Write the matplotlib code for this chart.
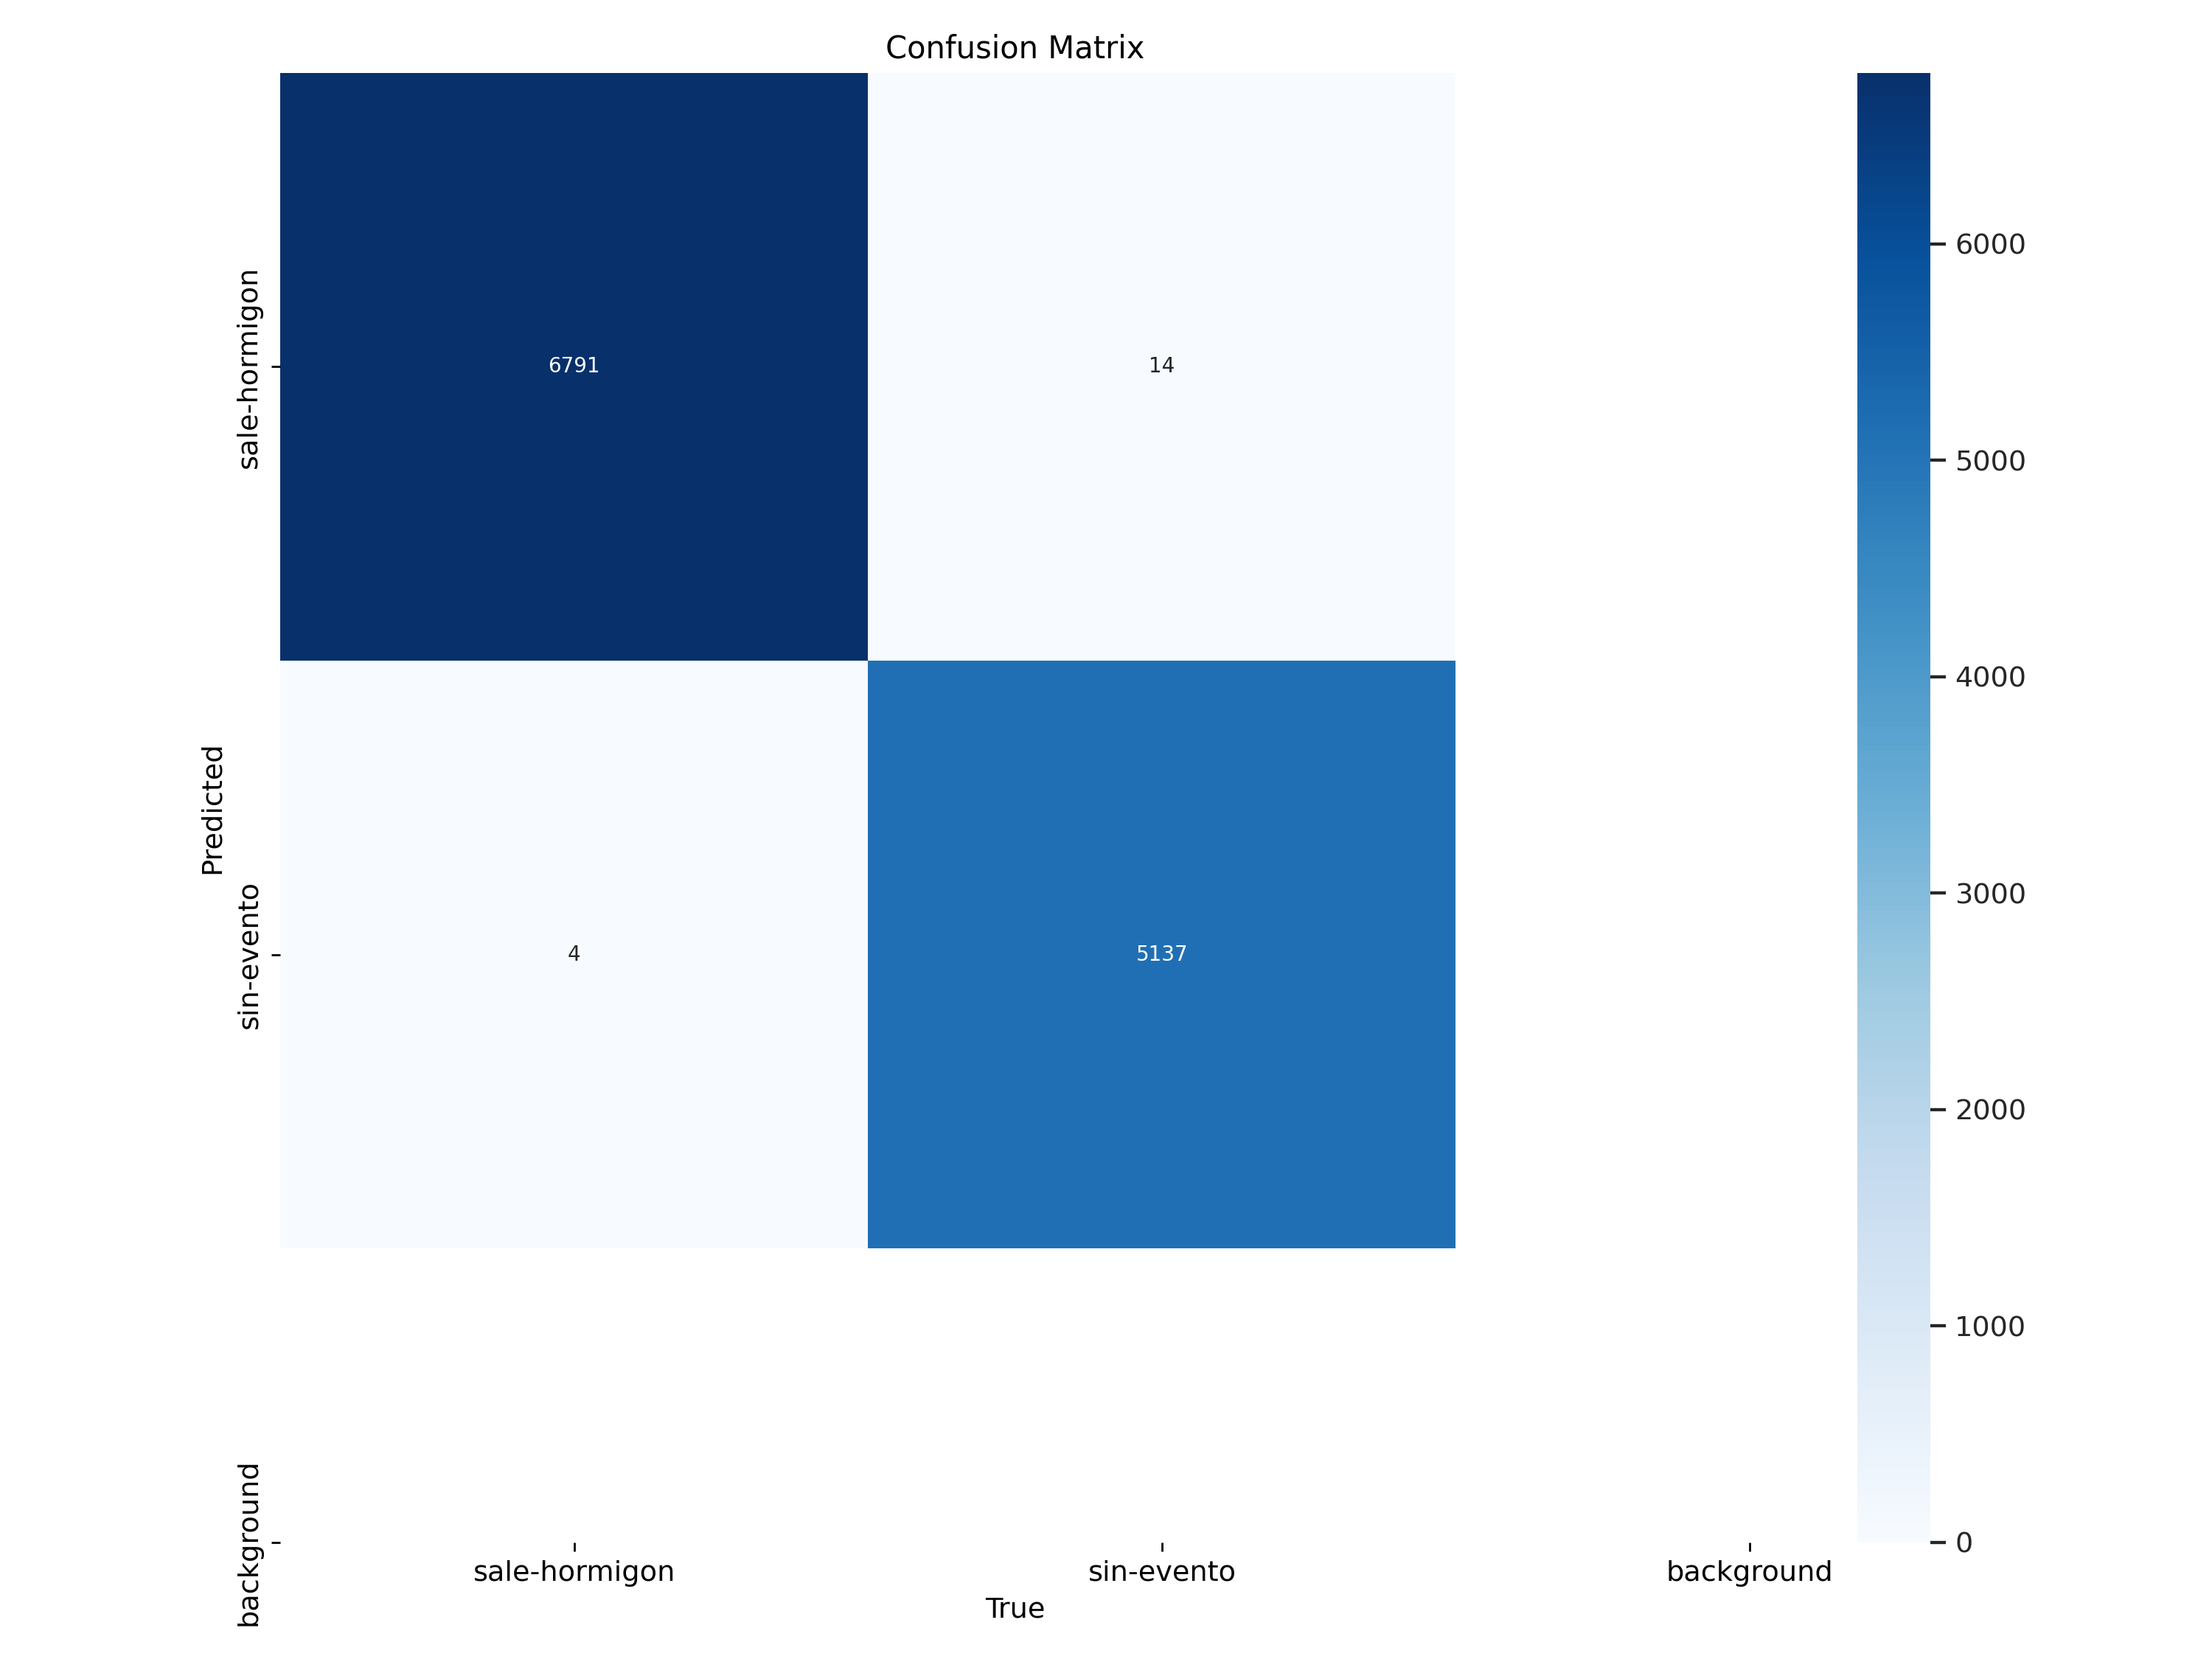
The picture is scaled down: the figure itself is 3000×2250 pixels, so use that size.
import warnings

import matplotlib
matplotlib.use('Agg')
import matplotlib.pyplot as plt
import numpy as np
import seaborn as sn

# rows = predicted, columns = true
names = ['sale-hormigon', 'sin-evento']
row_sale = [6791, 14, 0]
row_sin = [4, 5137, 0]
row_bg = [0, 0, 0]

array = np.array([row_sale, row_sin, row_bg], dtype=float)
array[array < 0.005] = np.nan  # hide empty cells

ticklabels = names + ['background']

fig, ax = plt.subplots(1, 1, figsize=(12, 9), tight_layout=True)
sn.set(font_scale=1.0)
plt.rcParams['font.family'] = ['DejaVu Sans']
with warnings.catch_warnings():
    warnings.simplefilter('ignore')
    sn.heatmap(array, ax=ax, annot=True, annot_kws={'size': 8}, cmap='Blues',
               fmt='.0f', square=True, vmin=0.0,
               xticklabels=ticklabels, yticklabels=ticklabels).set_facecolor((1, 1, 1))
# the original view stops half way through the background row / column
ax.set_xlim(0, 2.5)
ax.set_ylim(2.5, 0)
ax.tick_params(labelsize=11, labelcolor='black', color='black')
ax.set_xlabel('True', fontsize=11, color='black')
ax.set_ylabel('Predicted', fontsize=11, color='black')
ax.set_title('Confusion Matrix', fontsize=12, color='black')
fig.savefig('out.png', dpi=250)
